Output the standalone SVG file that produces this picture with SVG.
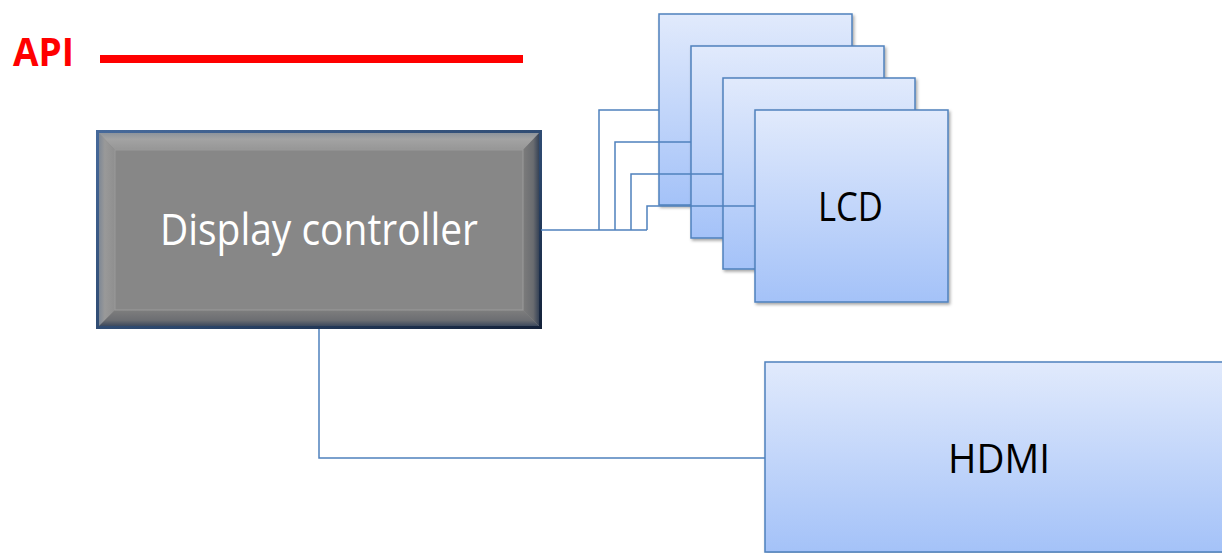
<svg xmlns="http://www.w3.org/2000/svg" width="1222" height="553" viewBox="0 0 1222 553">
  <defs>
    <linearGradient id="blueFill" x1="0" y1="0" x2="0" y2="1">
      <stop offset="0" stop-color="#e1eafc"/>
      <stop offset="1" stop-color="#a4c2f8"/>
    </linearGradient>
    <linearGradient id="dcStroke" x1="0" y1="0" x2="1" y2="1">
      <stop offset="0" stop-color="#46699a"/>
      <stop offset="0.6" stop-color="#2b466b"/>
      <stop offset="1" stop-color="#14223a"/>
    </linearGradient>
    <linearGradient id="bevelTop" x1="0" y1="0" x2="0" y2="1">
      <stop offset="0" stop-color="#8a919b"/>
      <stop offset="0.4" stop-color="#a3a3a3"/>
      <stop offset="1" stop-color="#969696"/>
    </linearGradient>
    <linearGradient id="bevelLeft" x1="0" y1="0" x2="1" y2="0">
      <stop offset="0" stop-color="#7a8594"/>
      <stop offset="0.4" stop-color="#999999"/>
      <stop offset="1" stop-color="#8f8f8f"/>
    </linearGradient>
    <linearGradient id="bevelRight" x1="0" y1="0" x2="1" y2="0">
      <stop offset="0" stop-color="#7c7c7c"/>
      <stop offset="0.6" stop-color="#6a6c70"/>
      <stop offset="1" stop-color="#2e3c52"/>
    </linearGradient>
    <linearGradient id="bevelBottom" x1="0" y1="0" x2="0" y2="1">
      <stop offset="0" stop-color="#7e7e7e"/>
      <stop offset="0.6" stop-color="#6c6e72"/>
      <stop offset="1" stop-color="#34435a"/>
    </linearGradient>
    <filter id="shadow" x="-5%" y="-5%" width="115%" height="115%">
      <feDropShadow dx="1.5" dy="2" stdDeviation="1.5" flood-color="#000" flood-opacity="0.35"/>
    </filter>
  </defs>
  <style>
    .box { fill: url(#blueFill); stroke: #4f81bd; stroke-width: 1.5; filter: url(#shadow); }
    .lbl { font-family: "Open Sans", "Liberation Sans", sans-serif; fill: #000; }
    .conn { fill: none; stroke: #4f81bd; stroke-width: 1.5; }
  </style>

  <rect width="1222" height="553" fill="#ffffff"/>

  <g id="api">
    <text x="13" y="66" font-family="Open Sans, Liberation Sans, sans-serif" font-weight="bold" font-size="40" fill="#ff0000" textLength="61" lengthAdjust="spacingAndGlyphs">API</text>
    <line x1="100" y1="59" x2="523" y2="59" stroke="#ff0000" stroke-width="8"/>
  </g>

  <g id="display-controller">
    <rect x="97" y="131" width="444" height="197" fill="#888888"/>
    <polygon points="98,132 540,132 523,150 115,150" fill="url(#bevelTop)"/>
    <polygon points="98,132 115,150 115,310 98,327" fill="url(#bevelLeft)"/>
    <polygon points="540,132 540,327 523,310 523,150" fill="url(#bevelRight)"/>
    <polygon points="98,327 115,310 523,310 540,327" fill="url(#bevelBottom)"/>
    <rect x="115" y="150" width="408" height="160" fill="#878787" stroke="#9a9a9a" stroke-width="1"/>
    <rect x="97.5" y="131.5" width="443" height="196" fill="none" stroke="url(#dcStroke)" stroke-width="3"/>
    <text x="160" y="245" font-family="Open Sans, Liberation Sans, sans-serif" font-size="44" fill="#ffffff" textLength="318" lengthAdjust="spacingAndGlyphs">Display controller</text>
  </g>

  <g id="lcd-1">
    <rect class="box" x="659" y="14" width="193" height="191"/>
  </g>
  <g id="lcd-2">
    <rect class="box" x="691" y="46" width="193" height="192"/>
  </g>
  <g id="lcd-3">
    <rect class="box" x="723" y="78" width="192" height="191"/>
  </g>
  <g id="lcd-4">
    <rect class="box" x="755" y="110" width="193" height="192"/>
    <text class="lbl" x="818" y="221" font-size="40" textLength="65" lengthAdjust="spacingAndGlyphs">LCD</text>
  </g>

  <g id="hdmi">
    <rect class="box" x="765" y="362" width="470" height="190"/>
    <text class="lbl" x="948" y="473" font-size="40" textLength="102" lengthAdjust="spacingAndGlyphs">HDMI</text>
  </g>

  <g id="connectors">
    <path class="conn" d="M541,230 H647"/>
    <path class="conn" d="M599,230 V110 H659"/>
    <path class="conn" d="M615,230 V142 H691"/>
    <path class="conn" d="M631,230 V174 H723"/>
    <path class="conn" d="M647,230 V206 H755"/>
    <path class="conn" d="M319,329 V458 H765"/>
  </g>
</svg>
